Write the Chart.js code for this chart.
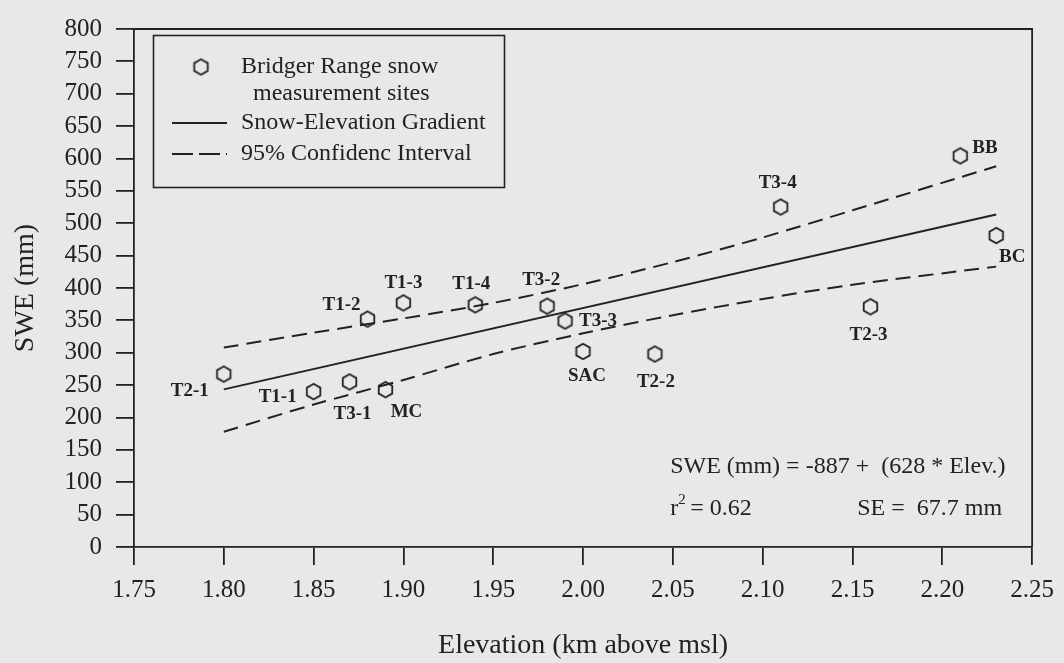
<!DOCTYPE html>
<html>
<head>
<meta charset="utf-8">
<title>Snow-Elevation Gradient, Bridger Range</title>
<script src="https://cdn.jsdelivr.net/npm/chart.js@4.4.0/dist/chart.umd.min.js"></script>
<style>
  html, body { margin: 0; padding: 0; background: #e8e8e6; }
  canvas { display: block; }
</style>
</head>
<body>
<canvas id="chart" width="1064" height="663"></canvas>
<script>
// Snow measurement sites: name, elevation (km above msl), SWE (mm)
const siteNames     = ['T2-1', 'T1-1', 'T3-1', 'MC', 'T1-2', 'T1-3', 'T1-4', 'T3-2', 'T3-3', 'SAC', 'T2-2', 'T3-4', 'T2-3', 'BB', 'BC'];
const siteElevation = [1.80, 1.85, 1.87, 1.89, 1.88, 1.90, 1.94, 1.98, 1.99, 2.00, 2.04, 2.11, 2.16, 2.21, 2.23];
const siteSWE       = [267, 240, 255, 243, 352, 377, 374, 372, 349, 302, 298, 525, 371, 604, 481];

// Regression: SWE (mm) = -887 + (628 * Elev.)
const fitIntercept = -887;
const fitSlope = 628;
const fitElevation = [1.80, 2.23];
const fitSWE = [243.4, 513.4];

// 95% confidence interval around the gradient
const ciElevation = [1.80, 1.85, 1.90, 1.95, 2.00, 2.05, 2.10, 2.15, 2.23];
const ciUpper     = [308, 331, 353, 377, 406, 440, 478, 520, 588];
const ciLower     = [178, 220, 258, 298, 330, 358, 383, 405, 433];

// Axis ticks
const xTicks = [1.75, 1.80, 1.85, 1.90, 1.95, 2.00, 2.05, 2.10, 2.15, 2.20, 2.25];
const yTicks = [0, 50, 100, 150, 200, 250, 300, 350, 400, 450, 500, 550, 600, 650, 700, 750, 800];

// Statistics printed in the plot
const rSquared = 0.62;
const standardError = 67.7;

// Where each site's name sits relative to its marker (px offsets + alignment)
const labelPlacement = [
  { dx: -15, dy: 17,  align: 'right'  },  // T2-1
  { dx: -17, dy: 5,   align: 'right'  },  // T1-1
  { dx: 3,   dy: 32,  align: 'center' },  // T3-1
  { dx: 21,  dy: 22,  align: 'center' },  // MC
  { dx: -26, dy: -14, align: 'center' },  // T1-2
  { dx: 0,   dy: -20, align: 'center' },  // T1-3
  { dx: -4,  dy: -21, align: 'center' },  // T1-4
  { dx: -6,  dy: -26, align: 'center' },  // T3-2
  { dx: 14,  dy: 0,   align: 'left'   },  // T3-3
  { dx: 4,   dy: 25,  align: 'center' },  // SAC
  { dx: 1,   dy: 28,  align: 'center' },  // T2-2
  { dx: -3,  dy: -24, align: 'center' },  // T3-4
  { dx: -2,  dy: 28,  align: 'center' },  // T2-3
  { dx: 12,  dy: -8,  align: 'left'   },  // BB
  { dx: 16,  dy: 22,  align: 'center' }   // BC
];

const INK = '#222222';
const SERIF = '"Liberation Serif", "Times New Roman", Times, serif';

// Open hexagon marker (pointy top)
function hexagonMarker(r, lw) {
  const s = Math.ceil(2 * r + lw + 3);
  const c = document.createElement('canvas');
  c.width = s; c.height = s;
  const g = c.getContext('2d');
  g.strokeStyle = INK;
  g.lineWidth = lw;
  g.lineJoin = 'miter';
  g.beginPath();
  for (let i = 0; i < 6; i++) {
    const a = Math.PI / 180 * (60 * i - 90);
    const x = s / 2 + r * Math.cos(a);
    const y = s / 2 + r * Math.sin(a);
    if (i === 0) g.moveTo(x, y); else g.lineTo(x, y);
  }
  g.closePath();
  g.stroke();
  return c;
}
const hexMarker = hexagonMarker(7.8, 1.8);

const pairs = (xs, ys) => xs.map((x, i) => ({ x: x, y: ys[i] }));

// Upper and right frame lines
const framePlugin = {
  id: 'frame',
  afterDraw(chart) {
    const { ctx, chartArea: a } = chart;
    ctx.save();
    ctx.strokeStyle = INK;
    ctx.lineWidth = 1.8;
    ctx.beginPath();
    ctx.moveTo(a.left, a.top);
    ctx.lineTo(a.right, a.top);
    ctx.lineTo(a.right, a.bottom);
    ctx.stroke();
    ctx.restore();
  }
};

// Site names next to their markers
const siteLabelPlugin = {
  id: 'siteLabels',
  afterDatasetsDraw(chart) {
    const ctx = chart.ctx;
    const meta = chart.getDatasetMeta(3);
    ctx.save();
    ctx.fillStyle = INK;
    ctx.font = 'bold 19px ' + SERIF;
    ctx.textBaseline = 'middle';
    meta.data.forEach((pt, i) => {
      const p = labelPlacement[i];
      ctx.textAlign = p.align;
      ctx.fillText(siteNames[i], pt.x + p.dx, pt.y + p.dy);
    });
    ctx.restore();
  }
};

// Legend box and regression statistics
const legendPlugin = {
  id: 'legendBox',
  afterDraw(chart) {
    const { ctx, chartArea: a } = chart;
    const L = a.left, T = a.top;
    ctx.save();
    ctx.strokeStyle = INK;
    ctx.fillStyle = INK;
    ctx.lineWidth = 1.6;
    ctx.strokeRect(L + 19.5, T + 6.5, 351, 152);

    ctx.drawImage(hexMarker, L + 67 - hexMarker.width / 2, T + 38 - hexMarker.height / 2);

    ctx.font = '24px ' + SERIF;
    ctx.textBaseline = 'middle';
    ctx.textAlign = 'left';
    ctx.fillText('Bridger Range snow', L + 107, T + 38);
    ctx.fillText('measurement sites', L + 119, T + 65);
    ctx.fillText('Snow-Elevation Gradient', L + 107, T + 94);
    ctx.fillText('95% Confidenc Interval', L + 107, T + 125);

    ctx.lineWidth = 1.8;
    ctx.beginPath();
    ctx.moveTo(L + 38, T + 94);
    ctx.lineTo(L + 93, T + 94);
    ctx.stroke();
    ctx.setLineDash([21, 6]);
    ctx.beginPath();
    ctx.moveTo(L + 38, T + 125);
    ctx.lineTo(L + 93, T + 125);
    ctx.stroke();
    ctx.setLineDash([]);

    // Regression statistics
    const R = a.right, B = a.bottom;
    ctx.font = '24px ' + SERIF;
    ctx.textAlign = 'left';
    ctx.fillText('SWE (mm) = ' + fitIntercept + ' +  (' + fitSlope + ' * Elev.)', R - 362, B - 80);
    const rx = R - 362, ry = B - 38;
    ctx.fillText('r', rx, ry);
    ctx.font = '15px ' + SERIF;
    ctx.fillText('2', rx + 8, ry - 9);
    ctx.font = '24px ' + SERIF;
    ctx.fillText('= ' + rSquared.toFixed(2), rx + 20, ry);
    ctx.textAlign = 'right';
    ctx.fillText('SE =  ' + standardError.toFixed(1) + ' mm', R - 30, ry);
    ctx.restore();
  }
};

const axisCommon = {
  type: 'linear',
  grid: {
    drawOnChartArea: false,
    drawTicks: true,
    tickLength: 18,
    color: INK,
    lineWidth: 1.8
  },
  border: { display: true, color: INK, width: 1.8 }
};

new Chart(document.getElementById('chart'), {
  type: 'scatter',
  data: {
    datasets: [
      {
        label: 'Snow-Elevation Gradient',
        data: pairs(fitElevation, fitSWE),
        showLine: true,
        borderColor: INK,
        borderWidth: 2,
        pointRadius: 0,
        fill: false
      },
      {
        label: '95% Confidenc Interval (upper)',
        data: pairs(ciElevation, ciUpper),
        showLine: true,
        borderColor: INK,
        borderWidth: 2,
        borderDash: [15, 8],
        pointRadius: 0,
        tension: 0.3,
        fill: false
      },
      {
        label: '95% Confidenc Interval (lower)',
        data: pairs(ciElevation, ciLower),
        showLine: true,
        borderColor: INK,
        borderWidth: 2,
        borderDash: [15, 8],
        pointRadius: 0,
        tension: 0.3,
        fill: false
      },
      {
        label: 'Bridger Range snow measurement sites',
        data: pairs(siteElevation, siteSWE),
        showLine: false,
        pointStyle: hexMarker,
        pointRadius: 8
      }
    ]
  },
  options: {
    responsive: false,
    animation: false,
    devicePixelRatio: 1,
    layout: { padding: { left: 0, top: 25, right: 24, bottom: 0 } },
    plugins: {
      legend: { display: false },
      tooltip: { enabled: false }
    },
    scales: {
      x: Object.assign({}, axisCommon, {
        min: 1.75,
        max: 2.25,
        afterBuildTicks: s => { s.ticks = xTicks.map(v => ({ value: v })); },
        afterFit: s => { s.height = 116; },
        ticks: {
          autoSkip: false,
          maxRotation: 0,
          padding: 10,
          color: INK,
          font: { family: SERIF, size: 25 },
          callback: v => Number(v).toFixed(2)
        },
        title: {
          display: true,
          text: 'Elevation (km above msl)',
          color: INK,
          font: { family: SERIF, size: 28 },
          padding: { top: 0, bottom: 1 }
        }
      }),
      y: Object.assign({}, axisCommon, {
        min: 0,
        max: 800,
        afterBuildTicks: s => { s.ticks = yTicks.map(v => ({ value: v })); },
        afterFit: s => { s.width = 134; },
        ticks: {
          autoSkip: false,
          padding: 14,
          color: INK,
          font: { family: SERIF, size: 25 },
          callback: v => String(v)
        },
        title: {
          display: true,
          text: 'SWE (mm)',
          color: INK,
          font: { family: SERIF, size: 28 },
          padding: { top: 9, bottom: 0 }
        }
      })
    }
  },
  plugins: [framePlugin, siteLabelPlugin, legendPlugin]
});
</script>
</body>
</html>
